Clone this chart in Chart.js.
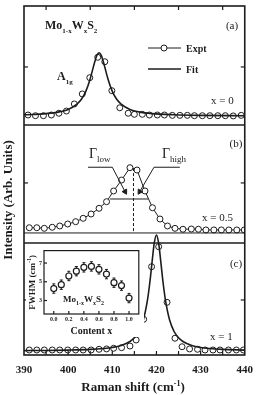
<!DOCTYPE html>
<html>
<head>
<meta charset="utf-8">
<script src="https://cdn.jsdelivr.net/npm/chart.js@4.4.1/dist/chart.umd.min.js"></script>
<style>
  body { margin: 0; background: #fff; }
  #wrap { position: relative; width: 262px; height: 395px; }
  #main { position: absolute; left: 0; top: 0; }
  #inset { position: absolute; left: 26px; top: 245px; }
</style>
</head>
<body>
<div id="wrap">
  <canvas id="main" width="262" height="395"></canvas>
  <canvas id="inset" width="118" height="92"></canvas>
</div>
<script>
// panel (a), x = 0
const ramanA = [390.9, 392.6, 394.4, 396.2, 397.9, 399.6, 401.4, 403.2, 404.9, 406.7, 408.3, 409.9, 411.7, 413.6, 415.0,
  416.8, 418.4, 420.2, 421.8, 423.6, 425.3, 427.0, 428.6, 430.4, 432.1, 433.9, 435.6, 437.4, 439.2];
const exptA = [2.063, 2.057, 2.057, 2.063, 2.078, 2.097, 2.158, 2.244, 2.384, 2.559, 2.521, 2.272, 2.125, 2.078, 2.069,
  2.069, 2.063, 2.063, 2.063, 2.060, 2.060, 2.060, 2.057, 2.057, 2.057, 2.057, 2.057, 2.055, 2.060];
const fitRamanA = [390, 395, 398, 400, 402, 403, 404, 405, 406, 406.5, 407, 407.5, 408, 409, 410, 411, 412, 414, 416, 419, 424, 430, 440];
const fitA = [2.065, 2.075, 2.090, 2.111, 2.156, 2.198, 2.266, 2.375, 2.517, 2.575, 2.598, 2.575, 2.517, 2.375, 2.266, 2.198,
  2.156, 2.111, 2.090, 2.075, 2.065, 2.060, 2.057];

// panel (b), x = 0.5
const ramanB = [391.2, 392.9, 394.6, 396.4, 398.1, 399.9, 401.7, 403.4, 405.2, 407.0, 408.7, 410.3, 412.1, 414.0, 415.6,
  417.4, 419.1, 420.8, 422.5, 424.2, 426.0, 427.9, 429.5, 431.2, 433.0, 434.7, 436.4, 438.2, 439.9];
const exptB = [1.094, 1.094, 1.089, 1.098, 1.109, 1.126, 1.146, 1.175, 1.212, 1.261, 1.318, 1.410, 1.504, 1.610, 1.590,
  1.410, 1.266, 1.169, 1.109, 1.089, 1.081, 1.083, 1.081, 1.075, 1.075, 1.075, 1.075, 1.075, 1.075];
const baseRamanB = [390, 440];
const baseB = [1.049, 1.049];
const halfMaxRaman = [409.5, 418.1];
const halfMaxB = [1.341, 1.341];
const peakRaman = [414.8, 414.8];
const peakB = [1.607, 1.049];
const lowLeaderRaman = [404.5, 410.0, 412.9];
const highLeaderRaman = [425.3, 419.45, 416.2];
const leaderB = [1.614, 1.614, 1.404];

// panel (c), x = 1
const ramanC = [391.2, 392.9, 394.6, 396.4, 398.1, 399.9, 401.7, 403.4, 405.2, 407.0, 408.7, 410.3, 412.1, 414.0, 415.4,
  417.1, 418.9, 420.5, 422.4, 424.2, 425.8, 427.5, 429.3, 431.0, 432.8, 434.4, 436.3, 438.1, 439.7];
const exptC = [0.043, 0.043, 0.043, 0.043, 0.043, 0.043, 0.043, 0.043, 0.043, 0.049, 0.052, 0.058, 0.063, 0.077, 0.129,
  0.307, 0.759, 0.931, 0.453, 0.144, 0.071, 0.052, 0.049, 0.043, 0.043, 0.043, 0.043, 0.043, 0.043];
const fitRamanC = [390, 395, 400, 405, 408, 410, 412, 414, 415, 416, 417, 418, 418.5, 419, 419.5, 420, 420.5, 421, 421.5,
  422, 423, 424, 425, 426, 428, 430, 432, 435, 440];
const fitC = [0.038, 0.039, 0.042, 0.048, 0.056, 0.065, 0.082, 0.116, 0.148, 0.202, 0.298, 0.481, 0.623, 0.796, 0.961,
  1.032, 0.961, 0.796, 0.623, 0.481, 0.298, 0.202, 0.148, 0.116, 0.082, 0.065, 0.056, 0.048, 0.042];

const xTickLabels = [390, 400, 410, 420, 430, 440];
const panelTicks = [0.473, 1.479, 2.476];
const panelEdges = [0.963, 1.977];

// inset
const contentX = [0, 0.1, 0.2, 0.3, 0.4, 0.5, 0.6, 0.7, 0.8, 0.9, 1.0];
const fwhm = [4.28, 4.69, 5.62, 6.13, 6.54, 6.64, 6.33, 5.82, 4.90, 4.59, 3.26];
const fwhmErr = [0.5, 0.5, 0.5, 0.5, 0.5, 0.5, 0.5, 0.5, 0.5, 0.5, 0.5];
const contentTicks = [0, 0.2, 0.4, 0.6, 0.8, 1.0];
const fwhmTicks = [3, 5, 7];

const SERIF = '"Liberation Serif", "DejaVu Serif", serif';
const INK = '#1c1c1c';

function pts(xs, ys) {
  return xs.map((x, i) => ({ x: x, y: ys[i] }));
}

// draw text made of normal / sub / sup pieces
function richWidth(ctx, parts, size, weight) {
  let w = 0;
  parts.forEach(([t, k]) => {
    let fs = k === 'n' ? size : Math.round(size * 0.62);
    ctx.font = weight + ' ' + fs + 'px ' + SERIF;
    w += ctx.measureText(t).width;
  });
  return w;
}
function rich(ctx, parts, x, y, size, weight, align) {
  weight = weight || 'bold';
  let cx = x;
  if (align === 'center') cx = x - richWidth(ctx, parts, size, weight) / 2;
  ctx.fillStyle = INK;
  ctx.textAlign = 'left';
  ctx.textBaseline = 'alphabetic';
  parts.forEach(([t, k]) => {
    let fs = k === 'n' ? size : Math.round(size * 0.62);
    let dy = k === 'sub' ? size * 0.3 : (k === 'sup' ? -size * 0.42 : 0);
    ctx.font = weight + ' ' + fs + 'px ' + SERIF;
    ctx.fillText(t, cx, y + dy);
    cx += ctx.measureText(t).width;
  });
}

const mainFrame = {
  id: 'mainFrame',
  afterDraw(chart) {
    const ctx = chart.ctx, a = chart.chartArea;
    const xs = chart.scales.x, ys = chart.scales.y;
    ctx.save();
    ctx.strokeStyle = INK;
    ctx.lineWidth = 1.6;
    ctx.strokeRect(a.left, a.top, a.right - a.left, a.bottom - a.top);
    panelEdges.forEach(v => {
      let y = ys.getPixelForValue(v);
      ctx.beginPath(); ctx.moveTo(a.left, y); ctx.lineTo(a.right, y); ctx.stroke();
    });
    ctx.lineWidth = 1.2;
    for (let v = 395; v < 440; v += 5) {
      let x = xs.getPixelForValue(v);
      ctx.beginPath(); ctx.moveTo(x, a.bottom); ctx.lineTo(x, a.bottom - 4); ctx.stroke();
      if (v % 10 === 5) {
        ctx.beginPath(); ctx.moveTo(x, a.top); ctx.lineTo(x, a.top + 4); ctx.stroke();
      }
    }
    panelTicks.forEach(v => {
      let y = ys.getPixelForValue(v);
      ctx.beginPath(); ctx.moveTo(a.left, y); ctx.lineTo(a.left + 4, y); ctx.stroke();
      ctx.beginPath(); ctx.moveTo(a.right, y); ctx.lineTo(a.right - 4, y); ctx.stroke();
    });

    // legend
    ctx.lineWidth = 1;
    ctx.beginPath(); ctx.moveTo(148, 48); ctx.lineTo(181, 48); ctx.stroke();
    ctx.fillStyle = '#fff';
    ctx.beginPath(); ctx.arc(164, 48, 3, 0, Math.PI * 2); ctx.fill(); ctx.stroke();
    ctx.lineWidth = 1.6;
    ctx.beginPath(); ctx.moveTo(148, 69); ctx.lineTo(181, 69); ctx.stroke();
    rich(ctx, [['Expt', 'n']], 186, 52, 10);
    rich(ctx, [['Fit', 'n']], 186, 73, 10);

    // labels
    rich(ctx, [['Mo', 'n'], ['1-x', 'sub'], ['W', 'n'], ['x', 'sub'], ['S', 'n'], ['2', 'sub']], 45, 29, 12);
    rich(ctx, [['(a)', 'n']], 232, 29, 11, 'normal', 'center');
    rich(ctx, [['(b)', 'n']], 236, 147, 11, 'normal', 'center');
    rich(ctx, [['(c)', 'n']], 236, 267, 11, 'normal', 'center');
    rich(ctx, [['A', 'n'], ['1g', 'sub']], 57, 80, 12);
    rich(ctx, [['x = 0', 'n']], 211, 104, 11, 'normal');
    rich(ctx, [['x = 0.5', 'n']], 202, 221, 11, 'normal');
    rich(ctx, [['x = 1', 'n']], 210, 340, 11, 'normal');
    rich(ctx, [['\u0393', 'n'], ['low', 'sub']], 89, 158, 14, 'normal');
    rich(ctx, [['\u0393', 'n'], ['high', 'sub']], 162, 158, 14, 'normal');

    // axis titles
    rich(ctx, [['Raman shift (cm', 'n'], ['-1', 'sup'], [')', 'n']], 133, 391, 13, 'bold', 'center');
    ctx.translate(12, 200);
    ctx.rotate(-Math.PI / 2);
    rich(ctx, [['Intensity (Arb. Units)', 'n']], 0, 0, 13, 'bold', 'center');
    ctx.restore();
  }
};

const circle = {
  showLine: false, pointRadius: 3, pointBorderWidth: 1, pointBorderColor: INK,
  pointBackgroundColor: '#fff'
};
const fitLine = {
  showLine: true, pointRadius: 0, borderColor: INK, borderWidth: 1.6,
  cubicInterpolationMode: 'monotone'
};
const thin = { showLine: true, pointRadius: 0, borderColor: INK, borderWidth: 1 };

new Chart(document.getElementById('main'), {
  type: 'scatter',
  data: {
    datasets: [
      Object.assign({ data: pts(fitRamanA, fitA) }, fitLine),
      Object.assign({ data: pts(ramanA, exptA) }, circle),
      Object.assign({ data: pts(baseRamanB, baseB) }, thin),
      Object.assign({ data: pts(halfMaxRaman, halfMaxB) }, thin),
      Object.assign({ data: pts(peakRaman, peakB), borderDash: [3, 2] }, thin),
      Object.assign({ data: pts(lowLeaderRaman, leaderB) }, thin, {
        pointRadius: [0, 0, 3], pointStyle: 'triangle', pointRotation: 151,
        pointBackgroundColor: INK, pointBorderColor: INK
      }),
      Object.assign({ data: pts(highLeaderRaman, leaderB) }, thin, {
        pointRadius: [0, 0, 3], pointStyle: 'triangle', pointRotation: 212,
        pointBackgroundColor: INK, pointBorderColor: INK
      }),
      Object.assign({ data: pts(ramanB, exptB), showLine: true, borderColor: INK, borderWidth: 1 }, {
        pointRadius: 3, pointBorderWidth: 1, pointBorderColor: INK, pointBackgroundColor: '#fff'
      }),
      Object.assign({ data: pts(fitRamanC, fitC) }, fitLine),
      Object.assign({ data: pts(ramanC, exptC) }, circle)
    ]
  },
  options: {
    responsive: false,
    animation: false,
    layout: { padding: { left: 24, right: 10, top: 6, bottom: 0 } },
    plugins: { legend: { display: false }, tooltip: { enabled: false } },
    scales: {
      x: {
        type: 'linear', min: 390, max: 440,
        afterBuildTicks: s => { s.ticks = xTickLabels.map(v => ({ value: v })); },
        afterFit: s => { s.height = 40; },
        grid: { display: false, drawTicks: false },
        border: { display: false },
        ticks: { padding: 9, maxRotation: 0, color: INK, font: { family: SERIF, weight: 'bold', size: 11 } }
      },
      y: { display: false, min: 0, max: 3 }
    }
  },
  plugins: [mainFrame]
});

const insetFrame = {
  id: 'insetFrame',
  beforeDraw(chart) {
    const ctx = chart.ctx;
    ctx.save();
    ctx.fillStyle = '#fff';
    ctx.fillRect(0, 0, chart.width, chart.height);
    ctx.restore();
  },
  afterDatasetsDraw(chart) {
    const ctx = chart.ctx, a = chart.chartArea;
    const xs = chart.scales.x, ys = chart.scales.y;
    ctx.save();
    ctx.strokeStyle = INK;
    ctx.lineWidth = 1.2;
    ctx.strokeRect(a.left, a.top, a.right - a.left, a.bottom - a.top);
    contentTicks.forEach(v => {
      let x = xs.getPixelForValue(v);
      ctx.beginPath(); ctx.moveTo(x, a.bottom); ctx.lineTo(x, a.bottom - 3); ctx.stroke();
    });
    fwhmTicks.forEach(v => {
      let y = ys.getPixelForValue(v);
      ctx.beginPath(); ctx.moveTo(a.left, y); ctx.lineTo(a.left + 3, y); ctx.stroke();
    });
    // error bars
    ctx.lineWidth = 1;
    contentX.forEach((c, i) => {
      let x = xs.getPixelForValue(c);
      let y1 = ys.getPixelForValue(fwhm[i] + fwhmErr[i]);
      let y2 = ys.getPixelForValue(fwhm[i] - fwhmErr[i]);
      let y0 = ys.getPixelForValue(fwhm[i]);
      ctx.beginPath(); ctx.moveTo(x, y1); ctx.lineTo(x, y0 - 3); ctx.stroke();
      ctx.beginPath(); ctx.moveTo(x, y2); ctx.lineTo(x, y0 + 3); ctx.stroke();
      ctx.beginPath(); ctx.moveTo(x - 1.5, y1); ctx.lineTo(x + 1.5, y1); ctx.stroke();
      ctx.beginPath(); ctx.moveTo(x - 1.5, y2); ctx.lineTo(x + 1.5, y2); ctx.stroke();
    });
    rich(ctx, [['Mo', 'n'], ['1-x', 'sub'], ['W', 'n'], ['x', 'sub'], ['S', 'n'], ['2', 'sub']], 37, 57, 9);
    rich(ctx, [['Content x', 'n']], (a.left + a.right) / 2, 89, 10, 'bold', 'center');
    ctx.translate(9, (a.top + a.bottom) / 2);
    ctx.rotate(-Math.PI / 2);
    rich(ctx, [['FWHM (cm', 'n'], ['-1', 'sup'], [')', 'n']], 0, 0, 9, 'bold', 'center');
    ctx.restore();
  }
};

new Chart(document.getElementById('inset'), {
  type: 'scatter',
  data: {
    datasets: [{
      data: pts(contentX, fwhm),
      pointRadius: 3, pointBorderWidth: 1.2, pointBorderColor: INK, pointBackgroundColor: '#fff'
    }]
  },
  options: {
    responsive: false,
    animation: false,
    layout: { padding: { left: 0, right: 3, top: 3, bottom: 0 } },
    plugins: { legend: { display: false }, tooltip: { enabled: false } },
    scales: {
      x: {
        type: 'linear', min: -0.13, max: 1.13,
        afterBuildTicks: s => { s.ticks = contentTicks.map(v => ({ value: v })); },
        afterFit: s => { s.height = 23; },
        grid: { display: false, drawTicks: false },
        border: { display: false },
        ticks: {
          padding: 2, maxRotation: 0, color: INK, font: { family: SERIF, weight: 'bold', size: 6 },
          callback: v => Number(v).toFixed(1)
        }
      },
      y: {
        min: 1.56, max: 8.33,
        afterBuildTicks: s => { s.ticks = fwhmTicks.map(v => ({ value: v })); },
        afterFit: s => { s.width = 18; },
        grid: { display: false, drawTicks: false },
        border: { display: false },
        ticks: { padding: 2, color: INK, font: { family: SERIF, weight: 'bold', size: 6 } }
      }
    }
  },
  plugins: [insetFrame]
});
</script>
</body>
</html>
